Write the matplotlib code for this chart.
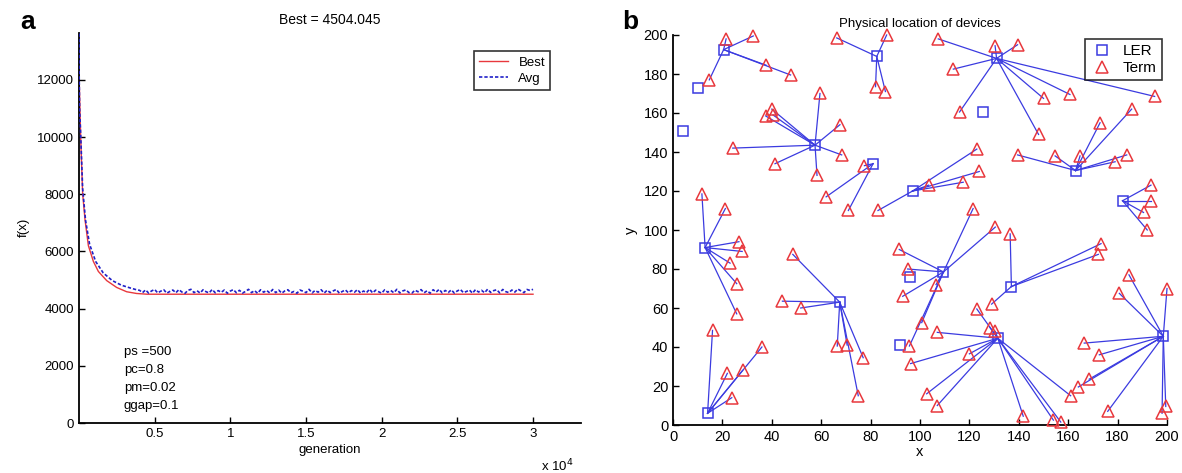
import numpy as np
import matplotlib
matplotlib.use("Agg")
import matplotlib.pyplot as plt

plt.rcParams['font.family'] = ['Liberation Sans', 'DejaVu Sans']

# ---------------- Panel a data ----------------
best_gen = [0, 110, 240, 400, 620, 950, 1280, 1830, 2490, 3150, 3800, 4500, 30000]
best_val = [12260, 9990, 8030, 7100, 6200, 5650, 5300, 4980, 4740, 4590, 4530, 4504, 4504]

avg_decay_gen = [0, 8, 40, 110, 240, 430, 700, 1100, 1600, 2200, 2800, 3400, 3800]
avg_decay_val = [13620, 12300, 11000, 10100, 8200, 7100, 6250, 5650, 5250, 4980, 4820, 4720, 4660]
avg_plateau_val = [
    4640, 4560, 4655, 4545, 4620, 4670, 4550, 4610, 4660, 4540, 4600, 4650, 4555, 4665, 4580,
    4535, 4640, 4675, 4560, 4625, 4545, 4660, 4590, 4550, 4670, 4555, 4630, 4570, 4650, 4540,
    4615, 4665, 4555, 4640, 4545, 4600, 4675, 4560, 4630, 4535, 4660, 4575, 4635, 4550, 4670,
    4560, 4645, 4540, 4620, 4660, 4555, 4600, 4540, 4650, 4610, 4560, 4675, 4550, 4635, 4575,
    4660, 4545, 4645, 4560, 4620, 4670, 4540, 4600, 4655, 4555, 4630, 4575, 4665, 4545, 4615,
    4560, 4680, 4550, 4645, 4590, 4540, 4660, 4575, 4635, 4555, 4675, 4550, 4620, 4655, 4560,
    4545, 4645, 4590, 4665, 4555, 4625, 4540, 4660, 4580, 4675, 4550, 4635, 4565, 4655, 4545,
    4620, 4670, 4560, 4600, 4650, 4540, 4665, 4580, 4640, 4555, 4680, 4565, 4630, 4660, 4550,
    4670, 4595, 4560, 4650, 4580, 4685, 4620, 4560, 4670, 4635, 4675]
avg_plateau_start = 4000
avg_plateau_end = 30000

params_text = ["ps =500", "pc=0.8", "pm=0.02", "ggap=0.1"]
a_yticks = [0, 2000, 4000, 6000, 8000, 10000, 12000]
a_xticks = [5000, 10000, 15000, 20000, 25000, 30000]
a_xticklabels = ["0.5", "1", "1.5", "2", "2.5", "3"]

# ---------------- Panel b data ----------------
ler_x = [20.5, 10, 4, 57.5, 82.5, 131, 125.5, 163, 182, 81, 97, 13, 14, 67.5, 109.5, 96, 92, 137, 131.5, 198.5]
ler_y = [192.5, 173, 151, 143.5, 189, 188, 160.5, 130.5, 115, 134, 120, 91, 6, 63, 78.5, 76, 41, 71, 44.5, 45.5]

term_x = [21.5, 32.5, 37.7, 47.6, 14.7,
          59.5, 37.5, 40, 40.5, 67.6, 68.3, 58.3, 41.3, 24.2,
          66.3, 86.5, 82, 86,
          107.4, 130.4, 139.5, 113.5, 116, 150, 160.7, 195, 148,
          139.5, 154.7, 164.8, 172.9, 185.7, 183.7, 179,
          193.5, 193.5, 190.5, 192,
          77.5, 71, 62,
          83, 123, 124, 117.5, 103.5,
          11.7, 21.2, 26.7, 28, 23.1, 25.8, 25.8,
          16, 22, 28.2, 23.8, 36,
          48.5, 44.3, 51.7, 66.5, 70.5, 77, 75,
          91.6, 95, 93, 106.5, 100.7, 95.7, 121.5, 130.5,
          136.5, 173.3, 172.2, 129,
          123, 128.3, 130.5, 107, 120, 96.2, 102.7, 107, 141.8, 154, 157, 161,
          184.6, 200, 180.7, 166.5, 172.6, 168.5, 164.1, 176, 198, 199.5]
term_y = [198, 199.5, 184.5, 179.5, 177,
          170, 158.5, 162, 159, 154, 138.5, 128, 134, 142,
          198.5, 200, 173.5, 171,
          198, 194.5, 195, 182.5, 160.5, 167.5, 169.5, 168.5, 149,
          138.5, 138, 138, 155, 162, 138.5, 135,
          123, 115, 109, 100,
          133, 110, 117,
          110, 141.5, 130, 124.5, 123,
          118.5, 111, 94, 89, 83, 72.5, 57,
          48.5, 26.5, 28, 14, 40,
          87.5, 63.5, 60, 40.5, 41, 34.5, 15,
          90, 80, 66, 72, 52.5, 40.5, 111, 101.5,
          98, 93, 87.5, 62,
          59.5, 50, 48, 47.5, 36.5, 31.5, 16, 10, 4.5, 2.5, 1.5, 15,
          77, 70, 67.5, 42, 36, 23.5, 19.5, 7, 6, 9.5]
term_ler = [0]*5 + [3]*9 + [4]*4 + [5]*9 + [7]*7 + [8]*4 + [9]*3 + [10]*5 + \
           [11]*7 + [12]*5 + [13]*7 + [14]*8 + [17]*4 + [18]*12 + [19]*10

b_ticks = [0, 20, 40, 60, 80, 100, 120, 140, 160, 180, 200]

# ---------------- Figure ----------------
fig = plt.figure(figsize=(11.82, 4.73), dpi=100)

RED = '#e8383d'
BLUE = '#2020c8'

# Panel a
axa = fig.add_axes([79/1182, (473-423)/473, 502/1182, (423-32.7)/473])
axa.plot(best_gen, best_val, color=RED, lw=1.0, label='Best', zorder=2)
avg_gen = list(avg_decay_gen) + list(np.linspace(avg_plateau_start, avg_plateau_end, len(avg_plateau_val)))
avg_val = list(avg_decay_val) + list(avg_plateau_val)
axa.plot(avg_gen, avg_val, color=BLUE, lw=1.2, ls=(0, (2, 1.2)), label='Avg', zorder=3)
axa.set_xlim(0, 33170)
axa.set_ylim(0, 13650)
axa.set_xticks(a_xticks)
axa.set_xticklabels(a_xticklabels)
axa.set_yticks(a_yticks)
axa.tick_params(direction='in', labelsize=9.5, length=4, width=1)
for s in ['top', 'right']:
    axa.spines[s].set_visible(False)
for s in ['left', 'bottom']:
    axa.spines[s].set_linewidth(1.3)
axa.set_title('Best = 4504.045', fontsize=10, pad=6)
axa.set_xlabel('generation', fontsize=9.5, labelpad=3)
axa.set_ylabel('f(x)', fontsize=9.5, labelpad=5)
axa.text(0.985, -0.09, r'x 10$^4$', transform=axa.transAxes, fontsize=9.5, ha='right', va='top')
for i, t in enumerate(params_text):
    axa.text(2970, 2490 - i*630, t, fontsize=9.5, va='center', ha='left')
leg = axa.legend(loc='upper right', bbox_to_anchor=(0.952, 0.97), fontsize=9.5,
                 frameon=True, fancybox=False, edgecolor='black', handlelength=2.2,
                 borderpad=0.4, labelspacing=0.3)
leg.get_frame().set_linewidth(1.2)

fig.text(20/1182, 1 - 22/473, 'a', fontsize=19, fontweight='bold', va='center', ha='left')

# Panel b
axb = fig.add_axes([673/1182, (473-425)/473, 494/1182, (425-35)/473])
LBLUE = '#3b3be0'
for tx, ty, k in zip(term_x, term_y, term_ler):
    axb.plot([ler_x[k], tx], [ler_y[k], ty], color=LBLUE, lw=0.9, zorder=2, clip_on=False)
axb.plot(ler_x, ler_y, 's', mfc='none', mec=LBLUE, mew=1.1, ms=7.5, ls='none', zorder=3,
         label='LER', clip_on=False)
axb.plot(term_x, term_y, '^', mfc='none', mec=RED, mew=1.1, ms=8.5, ls='none', zorder=3,
         label='Term', clip_on=False)
axb.set_xlim(0, 200)
axb.set_ylim(0, 200)
axb.set_xticks(b_ticks)
axb.set_yticks(b_ticks)
axb.tick_params(direction='in', labelsize=10.5, length=4, width=1)
for s in ['top', 'right']:
    axb.spines[s].set_visible(False)
for s in ['left', 'bottom']:
    axb.spines[s].set_linewidth(1.3)
axb.set_title('Physical location of devices', fontsize=9.5, pad=6)
axb.set_xlabel('x', fontsize=10.5, labelpad=1)
axb.set_ylabel('y', fontsize=10.5, labelpad=4)
legb = axb.legend(loc='upper right', bbox_to_anchor=(1.005, 1.01), fontsize=11,
                  frameon=True, fancybox=False, edgecolor='black', handlelength=1.5,
                  borderpad=0.35, labelspacing=0.2, handletextpad=0.6)
legb.get_frame().set_linewidth(1.2)
legb.set_zorder(5)

fig.text(622/1182, 1 - 22/473, 'b', fontsize=19, fontweight='bold', va='center', ha='left')

fig.savefig('out.png', dpi=100)
